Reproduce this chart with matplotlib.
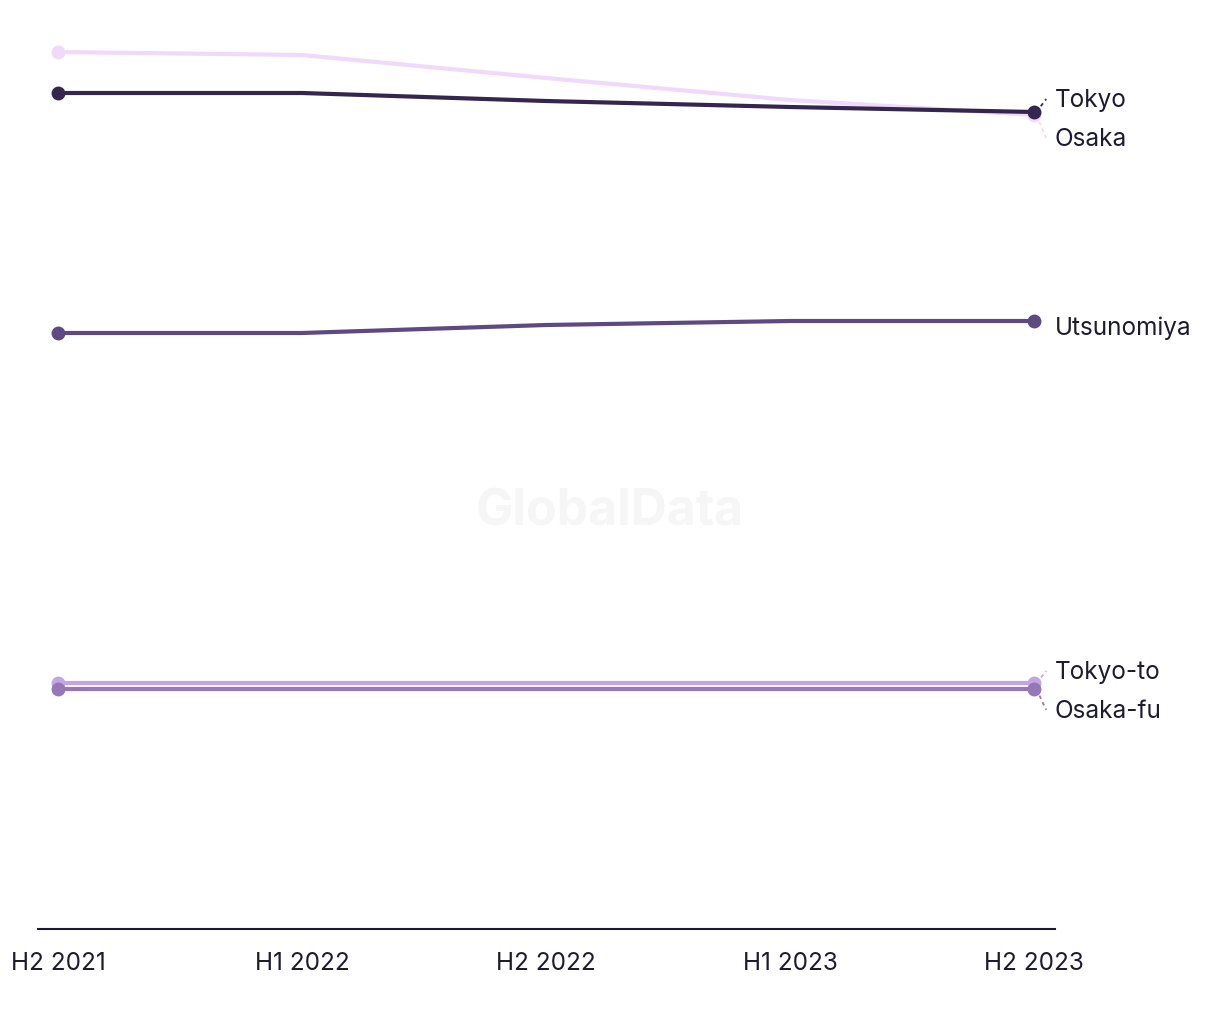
import matplotlib.pyplot as plt

periods = ['H2 2021', 'H1 2022', 'H2 2022', 'H1 2023', 'H2 2023']

# values (no y scale shown, arbitrary units)
osaka = [87.7, 87.4, 85.1, 82.9, 81.4]
tokyo = [83.6, 83.6, 82.8, 82.2, 81.7]
utsunomiya = [59.6, 59.6, 60.4, 60.8, 60.8]
tokyo_to = [24.6, 24.6, 24.6, 24.6, 24.6]
osaka_fu = [24.0, 24.0, 24.0, 24.0, 24.0]

series = [
    ('Osaka', osaka, '#f0d9fb'),
    ('Tokyo', tokyo, '#35264f'),
    ('Utsunomiya', utsunomiya, '#5e4a82'),
    ('Tokyo-to', tokyo_to, '#c3a5e3'),
    ('Osaka-fu', osaka_fu, '#9479b6'),
]
# label positions (y in data units) to keep the end labels apart
label_y = {'Tokyo': 83.0, 'Osaka': 79.1, 'Utsunomiya': 60.2,
           'Tokyo-to': 25.8, 'Osaka-fu': 21.9}

plt.rcParams['font.family'] = ['Inter', 'DejaVu Sans']

fig = plt.figure(figsize=(12.2, 10.2), dpi=100)
ax = fig.add_axes([38 / 1220, 90 / 1020, (1055 - 38) / 1220, (930 - 40) / 1020])

x = list(range(len(periods)))
for name, vals, col in series:
    ax.plot(x, vals, color=col, lw=3, solid_capstyle='round', zorder=3)
    ax.plot([x[0], x[-1]], [vals[0], vals[-1]], 'o', color=col, ms=9, zorder=4)
    ly = label_y[name]
    if abs(ly - vals[-1]) > 1:
        ax.plot([x[-1] + 0.01, x[-1] + 0.05], [vals[-1], ly], color=col, lw=1.3,
                ls=(0, (2, 2)), clip_on=False, zorder=2)
    ax.text(x[-1] + 0.085, ly, name, fontsize=17.5, color='#1d1b30',
            va='center', ha='left')

fig.text(610 / 1220, 1 - 512 / 1020, 'GlobalData', fontsize=36,
         fontweight='bold', color='#f6f6f6', ha='center', va='center', zorder=0)

ax.set_xlim(-0.082, 4.086)
ax.set_ylim(0, 89)
ax.set_xticks(x)
ax.set_xticklabels(periods, fontsize=17.5, color='#1d1b30')
ax.tick_params(axis='x', length=0, pad=16)
ax.set_yticks([])
for s in ['top', 'right', 'left']:
    ax.spines[s].set_visible(False)
ax.spines['bottom'].set_color('#1d1b30')
ax.spines['bottom'].set_linewidth(1.5)

fig.savefig('out.png', dpi=100)
